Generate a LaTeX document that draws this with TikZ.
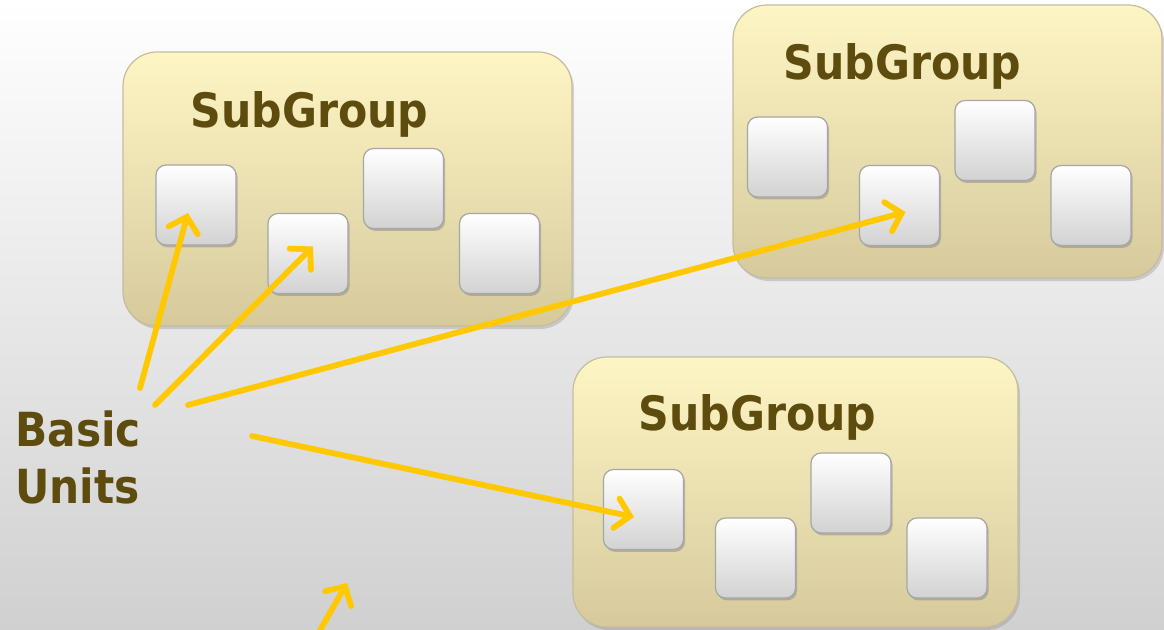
\documentclass[tikz,border=0pt]{standalone}
\usepackage{fontspec}
\setmainfont{DejaVu Sans Condensed}
\usetikzlibrary{positioning,calc,arrows.meta,shadows}

\definecolor{labeltext}{RGB}{94,76,14}
\definecolor{grouptop}{RGB}{254,245,196}
\definecolor{groupbottom}{RGB}{214,202,156}
\definecolor{groupedge}{RGB}{196,188,160}
\definecolor{unitbottom}{RGB}{210,210,210}
\definecolor{pointer}{RGB}{255,200,0}
\definecolor{bgbottom}{RGB}{208,208,208}

\tikzset{
	subgroup/.style={rectangle, rounded corners=17pt, draw=groupedge, line width=0.6pt,
		top color=grouptop, bottom color=groupbottom,
		drop shadow={shadow xshift=1pt, shadow yshift=-1.5pt, opacity=0.3}},
	unit/.style={rectangle, minimum size=40pt, rounded corners=5pt, draw=gray!70, line width=0.6pt,
		top color=white, bottom color=unitbottom,
		drop shadow={shadow xshift=0.8pt, shadow yshift=-1.2pt, opacity=0.45}},
	grouptitle/.style={font=\bfseries\fontsize{23.7}{28}\selectfont, text=labeltext,
		anchor=base west, inner sep=0pt},
	ptr/.style={draw=pointer, line width=2.9pt, line cap=round, line join=round,
		-{Straight Barb[length=7pt,width=15pt,line cap=round]}}
}

\begin{document}
\begin{tikzpicture}[x=0.5pt, y=-0.5pt]
	% Canvas
	\fill[top color=white, bottom color=bgbottom] (0,0) rectangle (1164,629);
	\useasboundingbox (0,0) rectangle (1164,629);
	
	% Subgroup frames
	\node[subgroup, minimum width=224.5pt, minimum height=137pt] (g1) at (347.5,189) {};
	\node[subgroup, minimum width=214.5pt, minimum height=136.5pt] (g2) at (947.5,141.5) {};
	\node[subgroup, minimum width=222.5pt, minimum height=135pt] (g3) at (795.5,492) {};
	
	% Titles
	\node[grouptitle] (t1) at (190,127) {SubGroup};
	\node[grouptitle] (t2) at (783,79) {SubGroup};
	\node[grouptitle] (t3) at (638,430) {SubGroup};
	
	% Basic units, same staggered row in every subgroup
	\foreach \g/\x/\y in {g1/196/205, g2/787.5/157, g3/643.5/509.5}
		\foreach \i/\dx/\dy in {1/0/0, 2/112/48.5, 3/207.5/-16.5, 4/303.5/48.5}
			\node[unit] (\g u\i) at (\x+\dx,\y+\dy) {};
	
	% Label
	\node[font=\bfseries\fontsize{23.5}{28.5}\selectfont, text=labeltext, align=left,
		anchor=north west, inner sep=0pt] (basic) at (15,410) {Basic\\Units};
	
	% Pointer tails
	\coordinate (bu1) at (140,388);
	\coordinate (bu2) at (155,405);
	\coordinate (bu3) at (188,405);
	\coordinate (bu4) at (252,436);
	\coordinate (low) at (319,632);
	\coordinate (lowtip) at (347,583);
	
	% Pointers
	\draw[ptr] (bu1) -- ([shift={(-8,8)}]g1u1.center);
	\draw[ptr] (bu2) -- ([shift={(5,-7)}]g1u2.center);
	\draw[ptr] (bu3) -- ([shift={(6,6.5)}]g2u2.center);
	\draw[ptr] (bu4) -- ([shift={(-9.5,7.5)}]g3u1.center);
	\draw[ptr] (low) -- (lowtip);
\end{tikzpicture}
\end{document}
